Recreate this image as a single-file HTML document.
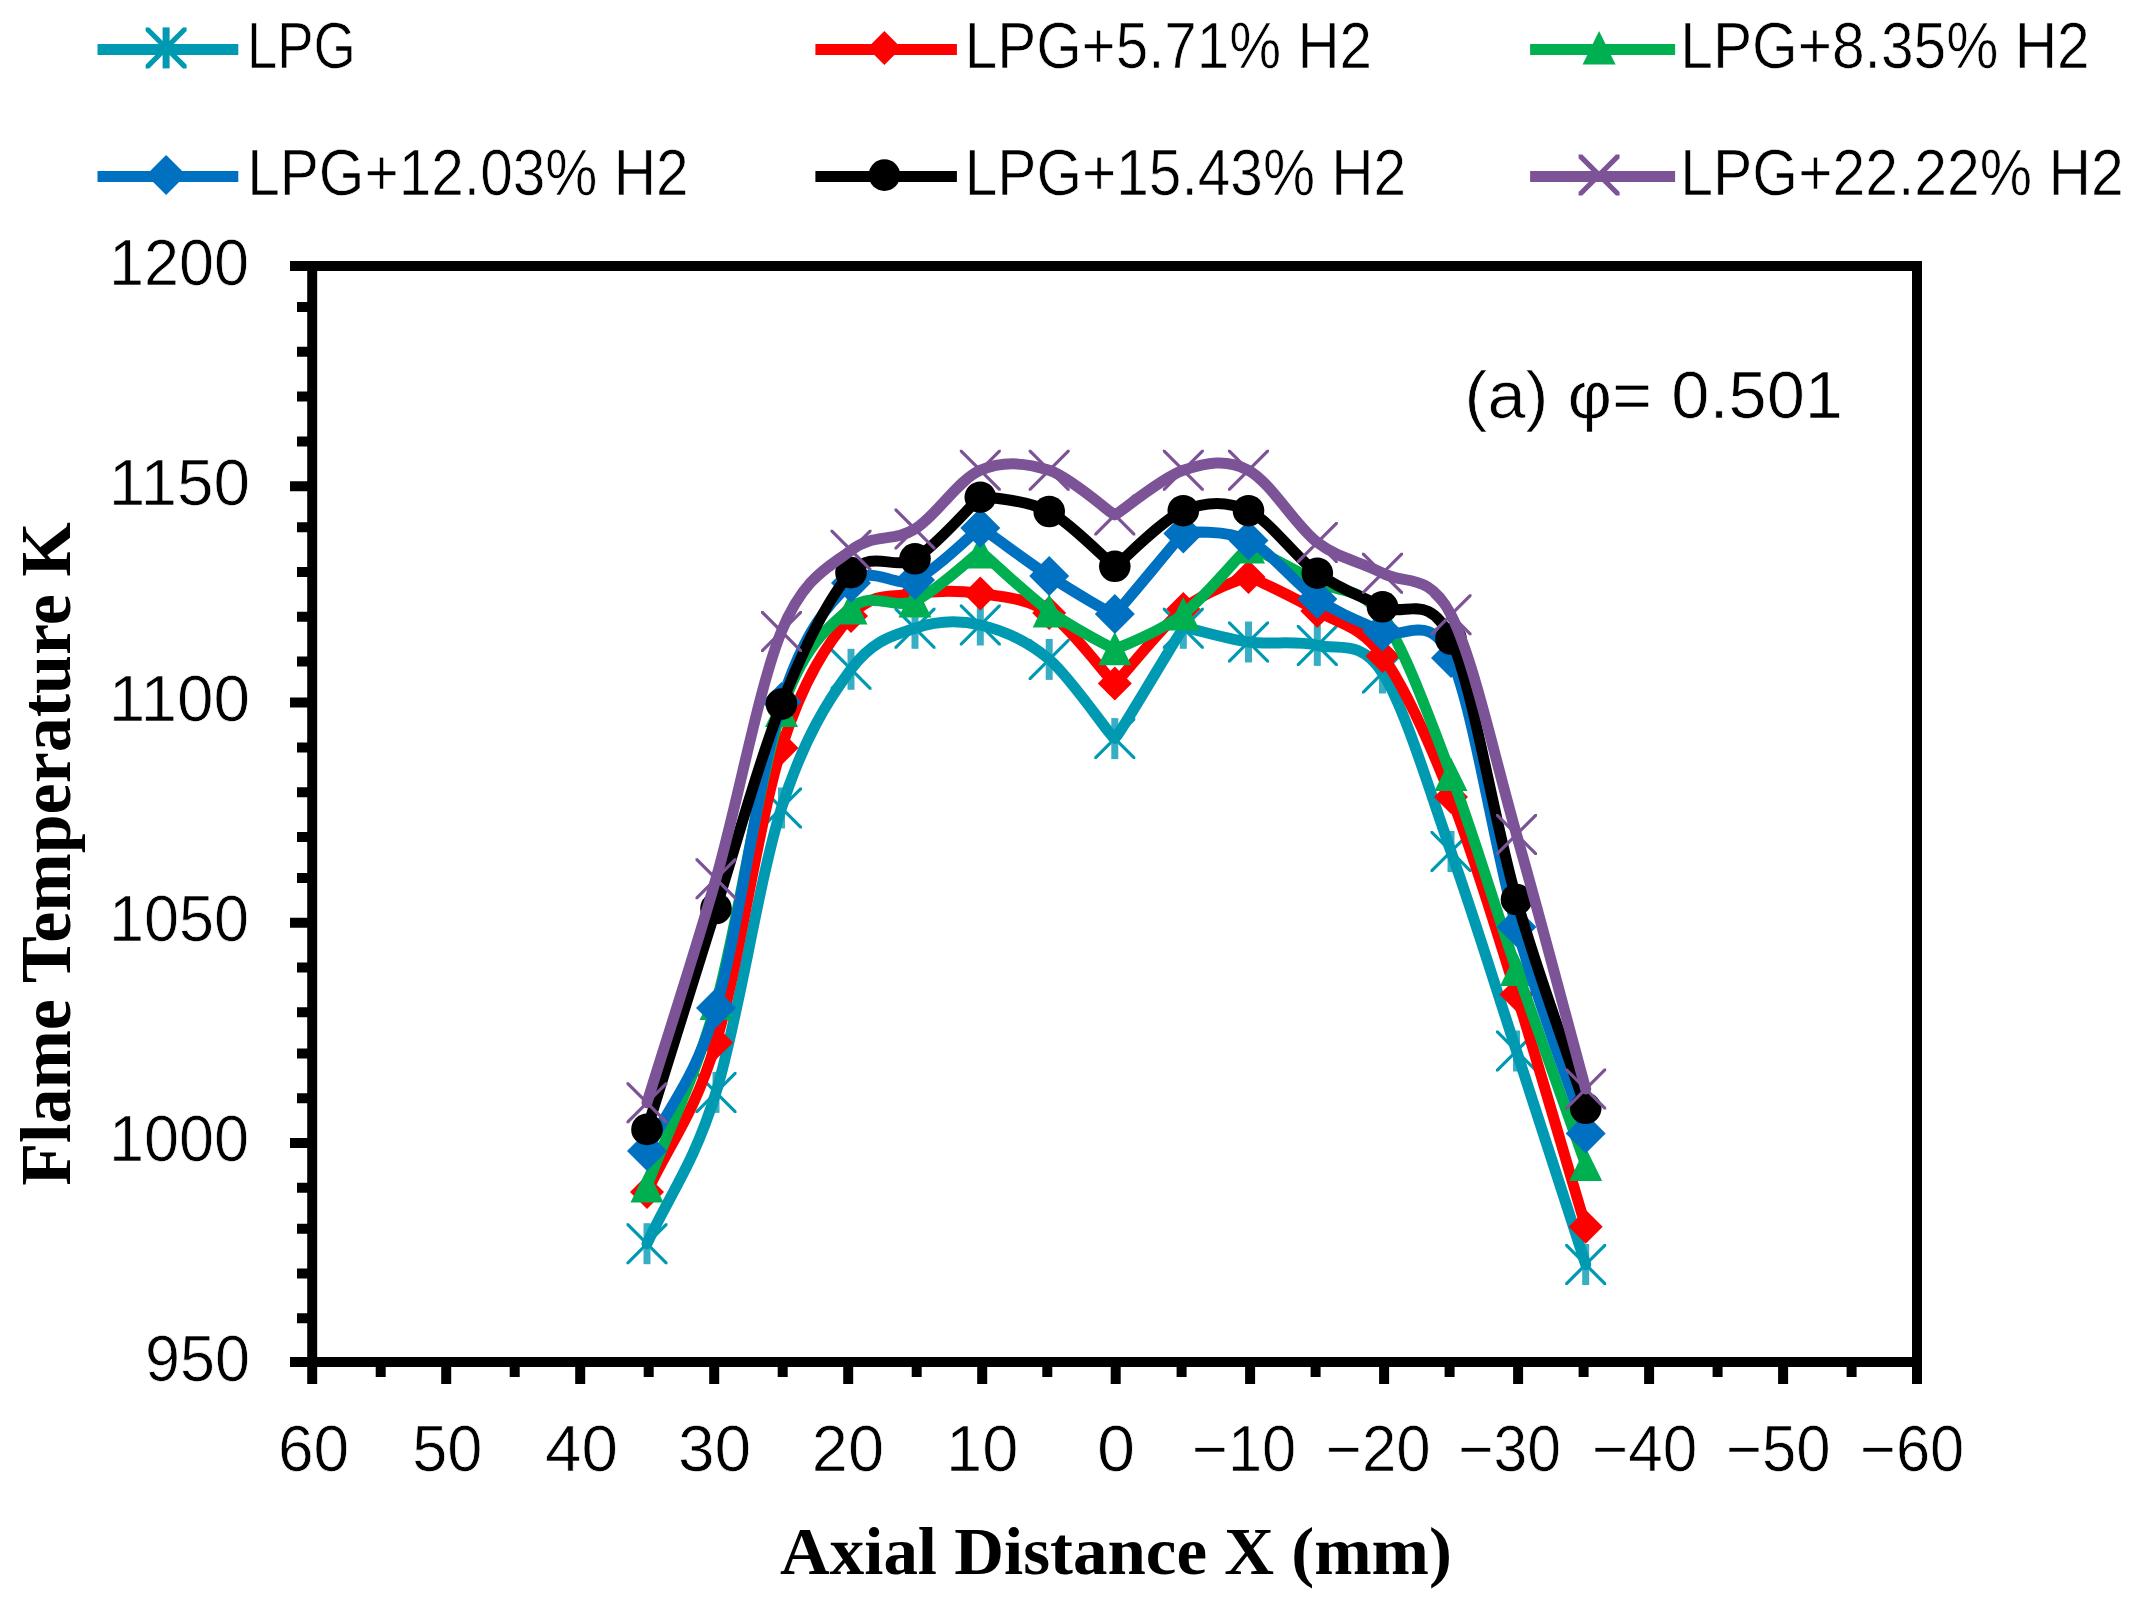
<!DOCTYPE html>
<html lang="en"><head><meta charset="utf-8"><title>Flame Temperature vs Axial Distance</title>
<style>html,body{margin:0;padding:0;background:#fff}svg{display:block}.s{font-family:"Liberation Sans",sans-serif;fill:#000;stroke:#fff;stroke-width:0.7px}.t{font-family:"Liberation Serif",serif;font-weight:bold;fill:#000}</style></head><body>
<svg width="2142" height="1608" viewBox="0 0 2142 1608">
<rect width="2142" height="1608" fill="#fff"/>
<g stroke="#000" stroke-width="10" fill="none">
<path d="M290 266.0H1922.0"/>
<path d="M290 1362.0H1922.0"/>
<path d="M312.2 261.0V1384"/>
<path d="M1917.0 261.0V1384"/>
<path d="M297 307.05H312.2M297 351.83H312.2M297 396.61H312.2M297 441.39H312.2M290 486.17H312.2M297 527.22H312.2M297 572.00H312.2M297 616.78H312.2M297 661.56H312.2M290 702.61H312.2M297 747.39H312.2M297 792.17H312.2M297 836.95H312.2M297 878.00H312.2M290 922.78H312.2M297 967.56H312.2M297 1012.34H312.2M297 1053.39H312.2M297 1098.17H312.2M290 1142.95H312.2M297 1187.73H312.2M297 1228.78H312.2M297 1273.56H312.2M297 1318.34H312.2"/>
<path d="M380.70 1362.0V1377M446.20 1362.0V1384M514.70 1362.0V1377M580.20 1362.0V1384M648.70 1362.0V1377M714.20 1362.0V1384M782.70 1362.0V1377M848.20 1362.0V1384M916.70 1362.0V1377M982.20 1362.0V1384M1047.30 1362.0V1377M1115.70 1362.0V1384M1181.60 1362.0V1377M1250.10 1362.0V1384M1315.60 1362.0V1377M1384.10 1362.0V1384M1449.60 1362.0V1377M1518.10 1362.0V1384M1583.60 1362.0V1377M1649.10 1362.0V1384M1717.60 1362.0V1377M1783.10 1362.0V1384M1851.60 1362.0V1377"/>
</g>
<g>
<g transform="translate(647.0 1243.7)"><path d="M-20.5 -20.5L-18.2373 -20.5L20.5 18.2373L20.5 20.5L18.2373 20.5L-20.5 -18.2373ZM20.5 -20.5L20.5 -18.2373L-18.2373 20.5L-20.5 20.5L-20.5 18.2373L18.2373 -20.5Z" fill="#0099B2"/><path d="M0 -20.5V20.5" stroke="#38AEC4" stroke-width="7"/></g>
<g transform="translate(716.0 1092.4)"><path d="M-20.5 -20.5L-18.2373 -20.5L20.5 18.2373L20.5 20.5L18.2373 20.5L-20.5 -18.2373ZM20.5 -20.5L20.5 -18.2373L-18.2373 20.5L-20.5 20.5L-20.5 18.2373L18.2373 -20.5Z" fill="#0099B2"/><path d="M0 -20.5V20.5" stroke="#38AEC4" stroke-width="7"/></g>
<g transform="translate(781.5 808.0)"><path d="M-20.5 -20.5L-18.2373 -20.5L20.5 18.2373L20.5 20.5L18.2373 20.5L-20.5 -18.2373ZM20.5 -20.5L20.5 -18.2373L-18.2373 20.5L-20.5 20.5L-20.5 18.2373L18.2373 -20.5Z" fill="#0099B2"/><path d="M0 -20.5V20.5" stroke="#38AEC4" stroke-width="7"/></g>
<g transform="translate(851.0 669.3)"><path d="M-20.5 -20.5L-18.2373 -20.5L20.5 18.2373L20.5 20.5L18.2373 20.5L-20.5 -18.2373ZM20.5 -20.5L20.5 -18.2373L-18.2373 20.5L-20.5 20.5L-20.5 18.2373L18.2373 -20.5Z" fill="#0099B2"/><path d="M0 -20.5V20.5" stroke="#38AEC4" stroke-width="7"/></g>
<g transform="translate(915.0 628.3)"><path d="M-20.5 -20.5L-18.2373 -20.5L20.5 18.2373L20.5 20.5L18.2373 20.5L-20.5 -18.2373ZM20.5 -20.5L20.5 -18.2373L-18.2373 20.5L-20.5 20.5L-20.5 18.2373L18.2373 -20.5Z" fill="#0099B2"/><path d="M0 -20.5V20.5" stroke="#38AEC4" stroke-width="7"/></g>
<g transform="translate(980.3 625.0)"><path d="M-20.5 -20.5L-18.2373 -20.5L20.5 18.2373L20.5 20.5L18.2373 20.5L-20.5 -18.2373ZM20.5 -20.5L20.5 -18.2373L-18.2373 20.5L-20.5 20.5L-20.5 18.2373L18.2373 -20.5Z" fill="#0099B2"/><path d="M0 -20.5V20.5" stroke="#38AEC4" stroke-width="7"/></g>
<g transform="translate(1049.2 659.4)"><path d="M-20.5 -20.5L-18.2373 -20.5L20.5 18.2373L20.5 20.5L18.2373 20.5L-20.5 -18.2373ZM20.5 -20.5L20.5 -18.2373L-18.2373 20.5L-20.5 20.5L-20.5 18.2373L18.2373 -20.5Z" fill="#0099B2"/><path d="M0 -20.5V20.5" stroke="#38AEC4" stroke-width="7"/></g>
<g transform="translate(1114.8 738.6)"><path d="M-20.5 -20.5L-18.2373 -20.5L20.5 18.2373L20.5 20.5L18.2373 20.5L-20.5 -18.2373ZM20.5 -20.5L20.5 -18.2373L-18.2373 20.5L-20.5 20.5L-20.5 18.2373L18.2373 -20.5Z" fill="#0099B2"/><path d="M0 -20.5V20.5" stroke="#38AEC4" stroke-width="7"/></g>
<g transform="translate(1183.3 628.3)"><path d="M-20.5 -20.5L-18.2373 -20.5L20.5 18.2373L20.5 20.5L18.2373 20.5L-20.5 -18.2373ZM20.5 -20.5L20.5 -18.2373L-18.2373 20.5L-20.5 20.5L-20.5 18.2373L18.2373 -20.5Z" fill="#0099B2"/><path d="M0 -20.5V20.5" stroke="#38AEC4" stroke-width="7"/></g>
<g transform="translate(1248.5 642.0)"><path d="M-20.5 -20.5L-18.2373 -20.5L20.5 18.2373L20.5 20.5L18.2373 20.5L-20.5 -18.2373ZM20.5 -20.5L20.5 -18.2373L-18.2373 20.5L-20.5 20.5L-20.5 18.2373L18.2373 -20.5Z" fill="#0099B2"/><path d="M0 -20.5V20.5" stroke="#38AEC4" stroke-width="7"/></g>
<g transform="translate(1317.3 645.4)"><path d="M-20.5 -20.5L-18.2373 -20.5L20.5 18.2373L20.5 20.5L18.2373 20.5L-20.5 -18.2373ZM20.5 -20.5L20.5 -18.2373L-18.2373 20.5L-20.5 20.5L-20.5 18.2373L18.2373 -20.5Z" fill="#0099B2"/><path d="M0 -20.5V20.5" stroke="#38AEC4" stroke-width="7"/></g>
<g transform="translate(1382.5 673.0)"><path d="M-20.5 -20.5L-18.2373 -20.5L20.5 18.2373L20.5 20.5L18.2373 20.5L-20.5 -18.2373ZM20.5 -20.5L20.5 -18.2373L-18.2373 20.5L-20.5 20.5L-20.5 18.2373L18.2373 -20.5Z" fill="#0099B2"/><path d="M0 -20.5V20.5" stroke="#38AEC4" stroke-width="7"/></g>
<g transform="translate(1451.0 851.5)"><path d="M-20.5 -20.5L-18.2373 -20.5L20.5 18.2373L20.5 20.5L18.2373 20.5L-20.5 -18.2373ZM20.5 -20.5L20.5 -18.2373L-18.2373 20.5L-20.5 20.5L-20.5 18.2373L18.2373 -20.5Z" fill="#0099B2"/><path d="M0 -20.5V20.5" stroke="#38AEC4" stroke-width="7"/></g>
<g transform="translate(1516.5 1051.0)"><path d="M-20.5 -20.5L-18.2373 -20.5L20.5 18.2373L20.5 20.5L18.2373 20.5L-20.5 -18.2373ZM20.5 -20.5L20.5 -18.2373L-18.2373 20.5L-20.5 20.5L-20.5 18.2373L18.2373 -20.5Z" fill="#0099B2"/><path d="M0 -20.5V20.5" stroke="#38AEC4" stroke-width="7"/></g>
<g transform="translate(1585.7 1264.5)"><path d="M-20.5 -20.5L-18.2373 -20.5L20.5 18.2373L20.5 20.5L18.2373 20.5L-20.5 -18.2373ZM20.5 -20.5L20.5 -18.2373L-18.2373 20.5L-20.5 20.5L-20.5 18.2373L18.2373 -20.5Z" fill="#0099B2"/><path d="M0 -20.5V20.5" stroke="#38AEC4" stroke-width="7"/></g>
<path d="M647.0 1243.7 C670.0 1193.3 693.6 1165.0 716.0 1092.4 C738.4 1019.8 759.0 878.5 781.5 808.0 C804.0 737.5 828.8 699.2 851.0 669.3 C873.2 639.3 893.5 635.7 915.0 628.3 C936.5 620.9 957.9 619.8 980.3 625.0 C1002.7 630.2 1026.8 640.5 1049.2 659.4 C1071.6 678.3 1112.1 739.2 1114.8 738.6 C1117.5 738.0 1180.6 630.2 1183.3 628.3 C1186.0 626.4 1226.2 639.1 1248.5 642.0 C1270.8 644.9 1295.0 640.2 1317.3 645.4 C1339.6 650.6 1360.2 638.6 1382.5 673.0 C1404.8 707.4 1428.7 788.5 1451.0 851.5 C1473.3 914.5 1494.0 982.2 1516.5 1051.0 C1539.0 1119.8 1562.6 1193.3 1585.7 1264.5" fill="none" stroke="#0099B2" stroke-width="11" stroke-linejoin="miter" stroke-linecap="round"/>
</g>
<g>
<path d="M647.0 1192.0 C670.0 1142.2 693.6 1116.5 716.0 1042.5 C738.4 968.5 759.0 819.1 781.5 748.0 C804.0 676.9 828.8 641.7 851.0 616.0 C873.2 590.3 893.5 597.8 915.0 594.0 C936.5 590.2 957.9 590.3 980.3 593.5 C1002.7 596.7 1026.8 598.0 1049.2 613.0 C1071.6 628.0 1112.1 683.6 1114.8 683.5 C1117.5 683.4 1161.0 626.8 1183.3 609.0 C1205.6 591.2 1245.8 577.0 1248.5 577.0 C1251.2 577.0 1295.0 597.8 1317.3 611.0 C1339.6 624.2 1360.2 625.0 1382.5 656.0 C1404.8 687.0 1428.7 740.6 1451.0 797.0 C1473.3 853.4 1494.0 922.9 1516.5 994.5 C1539.0 1066.1 1562.6 1149.3 1585.7 1226.7" fill="none" stroke="#FF0000" stroke-width="11" stroke-linejoin="miter" stroke-linecap="round"/>
<path transform="translate(647.0 1192.0)" d="M0 -17L17 0L0 17L-17 0Z" fill="#FF0000"/>
<path transform="translate(716.0 1042.5)" d="M0 -17L17 0L0 17L-17 0Z" fill="#FF0000"/>
<path transform="translate(781.5 748.0)" d="M0 -17L17 0L0 17L-17 0Z" fill="#FF0000"/>
<path transform="translate(851.0 616.0)" d="M0 -17L17 0L0 17L-17 0Z" fill="#FF0000"/>
<path transform="translate(915.0 594.0)" d="M0 -17L17 0L0 17L-17 0Z" fill="#FF0000"/>
<path transform="translate(980.3 593.5)" d="M0 -17L17 0L0 17L-17 0Z" fill="#FF0000"/>
<path transform="translate(1049.2 613.0)" d="M0 -17L17 0L0 17L-17 0Z" fill="#FF0000"/>
<path transform="translate(1114.8 683.5)" d="M0 -17L17 0L0 17L-17 0Z" fill="#FF0000"/>
<path transform="translate(1183.3 609.0)" d="M0 -17L17 0L0 17L-17 0Z" fill="#FF0000"/>
<path transform="translate(1248.5 577.0)" d="M0 -17L17 0L0 17L-17 0Z" fill="#FF0000"/>
<path transform="translate(1317.3 611.0)" d="M0 -17L17 0L0 17L-17 0Z" fill="#FF0000"/>
<path transform="translate(1382.5 656.0)" d="M0 -17L17 0L0 17L-17 0Z" fill="#FF0000"/>
<path transform="translate(1451.0 797.0)" d="M0 -17L17 0L0 17L-17 0Z" fill="#FF0000"/>
<path transform="translate(1516.5 994.5)" d="M0 -17L17 0L0 17L-17 0Z" fill="#FF0000"/>
<path transform="translate(1585.7 1226.7)" d="M0 -17L17 0L0 17L-17 0Z" fill="#FF0000"/>
</g>
<g>
<path d="M647.0 1186.0 C670.0 1125.2 693.6 1082.8 716.0 1003.6 C738.4 924.4 759.0 776.4 781.5 710.5 C804.0 644.6 828.8 626.2 851.0 608.0 C873.2 589.8 893.5 610.3 915.0 601.0 C936.5 591.7 977.6 551.8 980.3 552.0 C983.0 552.2 1026.8 594.9 1049.2 611.0 C1071.6 627.1 1112.1 648.6 1114.8 648.7 C1117.5 648.8 1161.0 631.0 1183.3 614.0 C1205.6 597.0 1245.8 547.6 1248.5 547.0 C1251.2 546.4 1295.0 570.3 1317.3 582.0 C1339.6 593.7 1360.2 584.9 1382.5 617.0 C1404.8 649.1 1428.7 715.8 1451.0 774.5 C1473.3 833.2 1494.0 904.5 1516.5 969.5 C1539.0 1034.5 1562.6 1099.6 1585.7 1164.6" fill="none" stroke="#00B050" stroke-width="11" stroke-linejoin="miter" stroke-linecap="round"/>
<path transform="translate(647.0 1186.0)" d="M0 -17L16.5 16.5H-16.5Z" fill="#00B050"/>
<path transform="translate(716.0 1003.6)" d="M0 -17L16.5 16.5H-16.5Z" fill="#00B050"/>
<path transform="translate(781.5 710.5)" d="M0 -17L16.5 16.5H-16.5Z" fill="#00B050"/>
<path transform="translate(851.0 608.0)" d="M0 -17L16.5 16.5H-16.5Z" fill="#00B050"/>
<path transform="translate(915.0 601.0)" d="M0 -17L16.5 16.5H-16.5Z" fill="#00B050"/>
<path transform="translate(980.3 552.0)" d="M0 -17L16.5 16.5H-16.5Z" fill="#00B050"/>
<path transform="translate(1049.2 611.0)" d="M0 -17L16.5 16.5H-16.5Z" fill="#00B050"/>
<path transform="translate(1114.8 648.7)" d="M0 -17L16.5 16.5H-16.5Z" fill="#00B050"/>
<path transform="translate(1183.3 614.0)" d="M0 -17L16.5 16.5H-16.5Z" fill="#00B050"/>
<path transform="translate(1248.5 547.0)" d="M0 -17L16.5 16.5H-16.5Z" fill="#00B050"/>
<path transform="translate(1317.3 582.0)" d="M0 -17L16.5 16.5H-16.5Z" fill="#00B050"/>
<path transform="translate(1382.5 617.0)" d="M0 -17L16.5 16.5H-16.5Z" fill="#00B050"/>
<path transform="translate(1451.0 774.5)" d="M0 -17L16.5 16.5H-16.5Z" fill="#00B050"/>
<path transform="translate(1516.5 969.5)" d="M0 -17L16.5 16.5H-16.5Z" fill="#00B050"/>
<path transform="translate(1585.7 1164.6)" d="M0 -17L16.5 16.5H-16.5Z" fill="#00B050"/>
</g>
<g>
<path d="M647.0 1151.0 C670.0 1103.3 693.6 1082.8 716.0 1008.0 C738.4 933.2 759.0 772.8 781.5 702.0 C804.0 631.2 828.8 603.3 851.0 583.0 C873.2 562.7 893.5 589.2 915.0 580.0 C936.5 570.8 977.6 528.1 980.3 528.0 C983.0 527.9 1026.8 561.7 1049.2 576.0 C1071.6 590.3 1112.1 614.9 1114.8 614.0 C1117.5 613.1 1180.6 535.0 1183.3 533.5 C1186.0 532.0 1226.2 529.6 1248.5 540.5 C1270.8 551.4 1295.0 583.8 1317.3 599.0 C1339.6 614.2 1360.2 621.7 1382.5 631.5 C1404.8 641.3 1428.7 608.8 1451.0 658.0 C1473.3 707.2 1494.0 847.8 1516.5 927.0 C1539.0 1006.2 1562.6 1064.7 1585.7 1133.5" fill="none" stroke="#0070C0" stroke-width="11" stroke-linejoin="miter" stroke-linecap="round"/>
<path transform="translate(647.0 1151.0)" d="M0 -20L20 0L0 20L-20 0Z" fill="#0070C0"/>
<path transform="translate(716.0 1008.0)" d="M0 -20L20 0L0 20L-20 0Z" fill="#0070C0"/>
<path transform="translate(781.5 702.0)" d="M0 -20L20 0L0 20L-20 0Z" fill="#0070C0"/>
<path transform="translate(851.0 583.0)" d="M0 -20L20 0L0 20L-20 0Z" fill="#0070C0"/>
<path transform="translate(915.0 580.0)" d="M0 -20L20 0L0 20L-20 0Z" fill="#0070C0"/>
<path transform="translate(980.3 528.0)" d="M0 -20L20 0L0 20L-20 0Z" fill="#0070C0"/>
<path transform="translate(1049.2 576.0)" d="M0 -20L20 0L0 20L-20 0Z" fill="#0070C0"/>
<path transform="translate(1114.8 614.0)" d="M0 -20L20 0L0 20L-20 0Z" fill="#0070C0"/>
<path transform="translate(1183.3 533.5)" d="M0 -20L20 0L0 20L-20 0Z" fill="#0070C0"/>
<path transform="translate(1248.5 540.5)" d="M0 -20L20 0L0 20L-20 0Z" fill="#0070C0"/>
<path transform="translate(1317.3 599.0)" d="M0 -20L20 0L0 20L-20 0Z" fill="#0070C0"/>
<path transform="translate(1382.5 631.5)" d="M0 -20L20 0L0 20L-20 0Z" fill="#0070C0"/>
<path transform="translate(1451.0 658.0)" d="M0 -20L20 0L0 20L-20 0Z" fill="#0070C0"/>
<path transform="translate(1516.5 927.0)" d="M0 -20L20 0L0 20L-20 0Z" fill="#0070C0"/>
<path transform="translate(1585.7 1133.5)" d="M0 -20L20 0L0 20L-20 0Z" fill="#0070C0"/>
</g>
<g>
<path d="M647.0 1129.4 C670.0 1055.8 693.6 979.4 716.0 908.5 C738.4 837.6 759.0 760.0 781.5 704.0 C804.0 648.0 828.8 596.8 851.0 572.6 C873.2 548.4 893.5 571.3 915.0 558.8 C936.5 546.2 977.6 498.1 980.3 497.2 C983.0 496.3 1026.8 500.0 1049.2 511.5 C1071.6 523.0 1112.1 566.3 1114.8 566.3 C1117.5 566.3 1161.0 520.0 1183.3 510.7 C1205.6 501.4 1226.2 500.3 1248.5 510.7 C1270.8 521.1 1295.0 557.2 1317.3 573.2 C1339.6 589.2 1360.2 595.8 1382.5 606.8 C1404.8 617.8 1428.7 590.2 1451.0 639.0 C1473.3 687.8 1494.0 821.3 1516.5 899.5 C1539.0 977.7 1562.6 1038.7 1585.7 1108.3" fill="none" stroke="#000000" stroke-width="11" stroke-linejoin="miter" stroke-linecap="round"/>
<circle cx="647.0" cy="1129.4" r="15.8" fill="#000000"/>
<circle cx="716.0" cy="908.5" r="15.8" fill="#000000"/>
<circle cx="781.5" cy="704.0" r="15.8" fill="#000000"/>
<circle cx="851.0" cy="572.6" r="15.8" fill="#000000"/>
<circle cx="915.0" cy="558.8" r="15.8" fill="#000000"/>
<circle cx="980.3" cy="497.2" r="15.8" fill="#000000"/>
<circle cx="1049.2" cy="511.5" r="15.8" fill="#000000"/>
<circle cx="1114.8" cy="566.3" r="15.8" fill="#000000"/>
<circle cx="1183.3" cy="510.7" r="15.8" fill="#000000"/>
<circle cx="1248.5" cy="510.7" r="15.8" fill="#000000"/>
<circle cx="1317.3" cy="573.2" r="15.8" fill="#000000"/>
<circle cx="1382.5" cy="606.8" r="15.8" fill="#000000"/>
<circle cx="1451.0" cy="639.0" r="15.8" fill="#000000"/>
<circle cx="1516.5" cy="899.5" r="15.8" fill="#000000"/>
<circle cx="1585.7" cy="1108.3" r="15.8" fill="#000000"/>
</g>
<g>
<path d="M647.0 1102.7 C670.0 1028.1 693.6 957.3 716.0 878.8 C738.4 800.2 759.0 686.1 781.5 631.4 C804.0 576.6 828.8 567.4 851.0 550.3 C873.2 533.2 893.5 542.3 915.0 529.0 C936.5 515.7 957.9 480.1 980.3 470.3 C1002.7 460.5 1026.8 462.9 1049.2 470.3 C1071.6 477.7 1112.1 514.9 1114.8 514.9 C1117.5 514.9 1161.0 477.7 1183.3 470.3 C1205.6 462.9 1226.2 458.3 1248.5 470.3 C1270.8 482.3 1295.0 525.2 1317.3 542.4 C1339.6 559.5 1360.2 561.1 1382.5 573.2 C1404.8 585.3 1428.7 571.2 1451.0 614.8 C1473.3 658.3 1494.0 755.5 1516.5 834.5 C1539.0 913.5 1562.6 1004.2 1585.7 1089.0" fill="none" stroke="#7B5396" stroke-width="11" stroke-linejoin="miter" stroke-linecap="round"/>
<path transform="translate(647.0 1102.7)" d="M-20.5 -20.5L-18.2373 -20.5L20.5 18.2373L20.5 20.5L18.2373 20.5L-20.5 -18.2373ZM20.5 -20.5L20.5 -18.2373L-18.2373 20.5L-20.5 20.5L-20.5 18.2373L18.2373 -20.5Z" fill="#7B5396"/>
<path transform="translate(716.0 878.8)" d="M-20.5 -20.5L-18.2373 -20.5L20.5 18.2373L20.5 20.5L18.2373 20.5L-20.5 -18.2373ZM20.5 -20.5L20.5 -18.2373L-18.2373 20.5L-20.5 20.5L-20.5 18.2373L18.2373 -20.5Z" fill="#7B5396"/>
<path transform="translate(781.5 631.4)" d="M-20.5 -20.5L-18.2373 -20.5L20.5 18.2373L20.5 20.5L18.2373 20.5L-20.5 -18.2373ZM20.5 -20.5L20.5 -18.2373L-18.2373 20.5L-20.5 20.5L-20.5 18.2373L18.2373 -20.5Z" fill="#7B5396"/>
<path transform="translate(851.0 550.3)" d="M-20.5 -20.5L-18.2373 -20.5L20.5 18.2373L20.5 20.5L18.2373 20.5L-20.5 -18.2373ZM20.5 -20.5L20.5 -18.2373L-18.2373 20.5L-20.5 20.5L-20.5 18.2373L18.2373 -20.5Z" fill="#7B5396"/>
<path transform="translate(915.0 529.0)" d="M-20.5 -20.5L-18.2373 -20.5L20.5 18.2373L20.5 20.5L18.2373 20.5L-20.5 -18.2373ZM20.5 -20.5L20.5 -18.2373L-18.2373 20.5L-20.5 20.5L-20.5 18.2373L18.2373 -20.5Z" fill="#7B5396"/>
<path transform="translate(980.3 470.3)" d="M-20.5 -20.5L-18.2373 -20.5L20.5 18.2373L20.5 20.5L18.2373 20.5L-20.5 -18.2373ZM20.5 -20.5L20.5 -18.2373L-18.2373 20.5L-20.5 20.5L-20.5 18.2373L18.2373 -20.5Z" fill="#7B5396"/>
<path transform="translate(1049.2 470.3)" d="M-20.5 -20.5L-18.2373 -20.5L20.5 18.2373L20.5 20.5L18.2373 20.5L-20.5 -18.2373ZM20.5 -20.5L20.5 -18.2373L-18.2373 20.5L-20.5 20.5L-20.5 18.2373L18.2373 -20.5Z" fill="#7B5396"/>
<path transform="translate(1114.8 514.9)" d="M-20.5 -20.5L-18.2373 -20.5L20.5 18.2373L20.5 20.5L18.2373 20.5L-20.5 -18.2373ZM20.5 -20.5L20.5 -18.2373L-18.2373 20.5L-20.5 20.5L-20.5 18.2373L18.2373 -20.5Z" fill="#7B5396"/>
<path transform="translate(1183.3 470.3)" d="M-20.5 -20.5L-18.2373 -20.5L20.5 18.2373L20.5 20.5L18.2373 20.5L-20.5 -18.2373ZM20.5 -20.5L20.5 -18.2373L-18.2373 20.5L-20.5 20.5L-20.5 18.2373L18.2373 -20.5Z" fill="#7B5396"/>
<path transform="translate(1248.5 470.3)" d="M-20.5 -20.5L-18.2373 -20.5L20.5 18.2373L20.5 20.5L18.2373 20.5L-20.5 -18.2373ZM20.5 -20.5L20.5 -18.2373L-18.2373 20.5L-20.5 20.5L-20.5 18.2373L18.2373 -20.5Z" fill="#7B5396"/>
<path transform="translate(1317.3 542.4)" d="M-20.5 -20.5L-18.2373 -20.5L20.5 18.2373L20.5 20.5L18.2373 20.5L-20.5 -18.2373ZM20.5 -20.5L20.5 -18.2373L-18.2373 20.5L-20.5 20.5L-20.5 18.2373L18.2373 -20.5Z" fill="#7B5396"/>
<path transform="translate(1382.5 573.2)" d="M-20.5 -20.5L-18.2373 -20.5L20.5 18.2373L20.5 20.5L18.2373 20.5L-20.5 -18.2373ZM20.5 -20.5L20.5 -18.2373L-18.2373 20.5L-20.5 20.5L-20.5 18.2373L18.2373 -20.5Z" fill="#7B5396"/>
<path transform="translate(1451.0 614.8)" d="M-20.5 -20.5L-18.2373 -20.5L20.5 18.2373L20.5 20.5L18.2373 20.5L-20.5 -18.2373ZM20.5 -20.5L20.5 -18.2373L-18.2373 20.5L-20.5 20.5L-20.5 18.2373L18.2373 -20.5Z" fill="#7B5396"/>
<path transform="translate(1516.5 834.5)" d="M-20.5 -20.5L-18.2373 -20.5L20.5 18.2373L20.5 20.5L18.2373 20.5L-20.5 -18.2373ZM20.5 -20.5L20.5 -18.2373L-18.2373 20.5L-20.5 20.5L-20.5 18.2373L18.2373 -20.5Z" fill="#7B5396"/>
<path transform="translate(1585.7 1089.0)" d="M-20.5 -20.5L-18.2373 -20.5L20.5 18.2373L20.5 20.5L18.2373 20.5L-20.5 -18.2373ZM20.5 -20.5L20.5 -18.2373L-18.2373 20.5L-20.5 20.5L-20.5 18.2373L18.2373 -20.5Z" fill="#7B5396"/>
</g>
<path d="M97.5 49.4H238.3" stroke="#0099B2" stroke-width="11"/>
<g transform="translate(166.1 47.9)"><path d="M-20.5 -20.5L-16.8231 -20.5L20.5 16.8231L20.5 20.5L16.8231 20.5L-20.5 -16.8231ZM20.5 -20.5L20.5 -16.8231L-16.8231 20.5L-20.5 20.5L-20.5 16.8231L16.8231 -20.5Z" fill="#0099B2"/><path d="M0 -20.5V20.5" stroke="#0099B2" stroke-width="7"/></g>
<text class="s" x="247.04" y="67.9" font-size="64" textLength="108.92" lengthAdjust="spacingAndGlyphs">LPG</text>
<path d="M815.4 49.4H956.9" stroke="#FF0000" stroke-width="11"/>
<path transform="translate(884.4 47.9)" d="M0 -17L17 0L0 17L-17 0Z" fill="#FF0000"/>
<text class="s" x="964.77" y="67.9" font-size="64" textLength="407.26" lengthAdjust="spacingAndGlyphs">LPG+5.71% H2</text>
<path d="M1530.1 49.4H1675.1" stroke="#00B050" stroke-width="11"/>
<path transform="translate(1599.1 47.9)" d="M0 -17L16.5 16.5H-16.5Z" fill="#00B050"/>
<text class="s" x="1680.36" y="67.9" font-size="64" textLength="409.26" lengthAdjust="spacingAndGlyphs">LPG+8.35% H2</text>
<path d="M97.5 176.6H238.3" stroke="#0070C0" stroke-width="11"/>
<path transform="translate(166.1 175.1)" d="M0 -20L20 0L0 20L-20 0Z" fill="#0070C0"/>
<text class="s" x="247.18" y="195.0" font-size="64" textLength="441.44" lengthAdjust="spacingAndGlyphs">LPG+12.03% H2</text>
<path d="M815.4 176.6H956.9" stroke="#000000" stroke-width="11"/>
<circle cx="884.4" cy="175.1" r="15.8" fill="#000000"/>
<text class="s" x="964.78" y="195.0" font-size="64" textLength="441.44" lengthAdjust="spacingAndGlyphs">LPG+15.43% H2</text>
<path d="M1530.1 176.6H1675.1" stroke="#7B5396" stroke-width="11"/>
<path transform="translate(1599.1 175.1)" d="M-20.5 -20.5L-16.8231 -20.5L20.5 16.8231L20.5 20.5L16.8231 20.5L-20.5 -16.8231ZM20.5 -20.5L20.5 -16.8231L-16.8231 20.5L-20.5 20.5L-20.5 16.8231L16.8231 -20.5Z" fill="#7B5396"/>
<text class="s" x="1680.37" y="195.0" font-size="64" textLength="443.45" lengthAdjust="spacingAndGlyphs">LPG+22.22% H2</text>
<text class="s" x="108.92" y="284.5" font-size="64" textLength="140.12" lengthAdjust="spacingAndGlyphs">1200</text>
<text class="s" x="108.87" y="504.7" font-size="64" textLength="141.22" lengthAdjust="spacingAndGlyphs">1150</text>
<text class="s" x="108.87" y="721.1" font-size="64" textLength="141.22" lengthAdjust="spacingAndGlyphs">1100</text>
<text class="s" x="108.92" y="941.3" font-size="64" textLength="140.12" lengthAdjust="spacingAndGlyphs">1050</text>
<text class="s" x="108.92" y="1161.4" font-size="64" textLength="140.12" lengthAdjust="spacingAndGlyphs">1000</text>
<text class="s" x="144.99" y="1380.5" font-size="64" textLength="105.02" lengthAdjust="spacingAndGlyphs">950</text>
<text class="s" x="277.94" y="1470.5" font-size="64" textLength="71.31" lengthAdjust="spacingAndGlyphs">60</text>
<text class="s" x="412.19" y="1470.5" font-size="64" textLength="70.21" lengthAdjust="spacingAndGlyphs">50</text>
<text class="s" x="545.01" y="1470.5" font-size="64" textLength="72.96" lengthAdjust="spacingAndGlyphs">40</text>
<text class="s" x="677.94" y="1470.5" font-size="64" textLength="73.31" lengthAdjust="spacingAndGlyphs">30</text>
<text class="s" x="811.77" y="1470.5" font-size="64" textLength="72.24" lengthAdjust="spacingAndGlyphs">20</text>
<text class="s" x="946.01" y="1470.5" font-size="64" textLength="72.31" lengthAdjust="spacingAndGlyphs">10</text>
<text class="s" x="1096.93" y="1470.5" font-size="64" textLength="38.10" lengthAdjust="spacingAndGlyphs">0</text>
<text class="s" x="1192.03" y="1470.5" font-size="64" textLength="104.17" lengthAdjust="spacingAndGlyphs">−10</text>
<text class="s" x="1325.80" y="1470.5" font-size="64" textLength="104.81" lengthAdjust="spacingAndGlyphs">−20</text>
<text class="s" x="1458.20" y="1470.5" font-size="64" textLength="102.81" lengthAdjust="spacingAndGlyphs">−30</text>
<text class="s" x="1591.96" y="1470.5" font-size="64" textLength="105.27" lengthAdjust="spacingAndGlyphs">−40</text>
<text class="s" x="1725.97" y="1470.5" font-size="64" textLength="104.65" lengthAdjust="spacingAndGlyphs">−50</text>
<text class="s" x="1860.03" y="1470.5" font-size="64" textLength="104.17" lengthAdjust="spacingAndGlyphs">−60</text>
<text class="s" x="1464.56" y="418.4" font-size="67" textLength="378.46" lengthAdjust="spacingAndGlyphs">(a) φ= 0.501</text>
<text class="t" x="780.00" y="1573.5" font-size="68" textLength="671.99" lengthAdjust="spacingAndGlyphs">Axial Distance X (mm)</text>
<text class="t" transform="translate(69.5 1185.80) rotate(-90)" font-size="71" textLength="663.60" lengthAdjust="spacingAndGlyphs">Flame Temperature K</text>
</svg></body></html>
